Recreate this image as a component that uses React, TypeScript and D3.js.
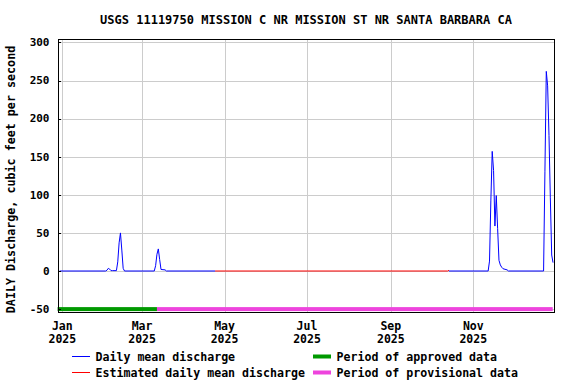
import React from "react";
import * as d3 from "d3";

const TITLE = "USGS 11119750 MISSION C NR MISSION ST NR SANTA BARBARA CA";
const Y_LABEL = "DAILY Discharge, cubic feet per second";

const yTicks = [-50, 0, 50, 100, 150, 200, 250, 300];
const xTickDates = ["2025-01-01", "2025-03-01", "2025-05-01", "2025-07-01", "2025-09-01", "2025-11-01"];
const xTickMonths = ["Jan", "Mar", "May", "Jul", "Sep", "Nov"];
const xTickYears = ["2025", "2025", "2025", "2025", "2025", "2025"];

// Daily mean discharge (first approved/provisional part)
const dailyDatesA = [
  "2024-12-30", "2025-02-02", "2025-02-03", "2025-02-04", "2025-02-05", "2025-02-06", "2025-02-07",
  "2025-02-10", "2025-02-11", "2025-02-12", "2025-02-13", "2025-02-14", "2025-02-15", "2025-02-16",
  "2025-03-10", "2025-03-11", "2025-03-12", "2025-03-13", "2025-03-14", "2025-03-15", "2025-03-18",
  "2025-03-19", "2025-04-24",
];
const dailyValuesA = [
  0, 0, 1, 3.5, 2.5, 0.5, 0.5,
  0.5, 12, 37, 50, 27.5, 3.5, 0,
  0, 7, 22, 29, 15, 2, 1.5,
  0, 0,
];

// Estimated daily mean discharge
const estDates = ["2025-04-24", "2025-10-13", "2025-10-14"];
const estValues = [0, 0, 1];

// Daily mean discharge (after estimated period)
const dailyDatesB = [
  "2025-10-14", "2025-11-12", "2025-11-13", "2025-11-14", "2025-11-15", "2025-11-16", "2025-11-17",
  "2025-11-18", "2025-11-19", "2025-11-20", "2025-11-21", "2025-11-22", "2025-11-23", "2025-11-26",
  "2025-11-27", "2025-12-23", "2025-12-24", "2025-12-25", "2025-12-26", "2025-12-27", "2025-12-28",
  "2025-12-29", "2025-12-30",
];
const dailyValuesB = [
  0, 0, 13, 92, 157, 132, 59,
  99, 56, 14, 8, 5, 3, 1.5,
  0, 0, 131, 262, 243, 178, 96,
  21, 11,
];

const approvedPeriod = ["2024-12-28T12:00:00Z", "2025-03-12T00:00:00Z"];
const provisionalPeriod = ["2025-03-12T00:00:00Z", "2025-12-29T18:00:00Z"];

const legendItems = [
  { label: "Daily mean discharge", color: "#0000ff", kind: "line" },
  { label: "Estimated daily mean discharge", color: "#ff0000", kind: "line" },
  { label: "Period of approved data", color: "#009900", kind: "bar" },
  { label: "Period of provisional data", color: "#ee44dd", kind: "bar" },
];

const W = 576;
const H = 384;
const L = 58, R = 554, T = 39, B = 312;
const FONT = "'DejaVu Sans Mono', 'Liberation Mono', monospace";

const parse = (s: string) => new Date(s.length > 10 ? s : s + "T00:00:00Z");

export default function App() {
  const x = d3
    .scaleUtc()
    .domain([parse("2024-12-28T19:00:00Z"), parse("2025-12-30T17:00:00Z")])
    .range([L, R]);
  const y = d3.scaleLinear().domain([-53.8, 304.5]).range([B, T]);

  const line = d3
    .line<[string, number]>()
    .x((d) => x(parse(d[0])))
    .y((d) => y(d[1]));

  const seriesA = dailyDatesA.map((d, i) => [d, dailyValuesA[i]] as [string, number]);
  const seriesB = dailyDatesB.map((d, i) => [d, dailyValuesB[i]] as [string, number]);
  const seriesE = estDates.map((d, i) => [d, estValues[i]] as [string, number]);

  const barY = y(-50);

  return (
    <svg
      width={W}
      height={H}
      style={{ position: "absolute", left: 0, top: 0, background: "#fff" }}
      fontFamily={FONT}
      fontWeight="bold"
    >
      <rect x={0} y={0} width={W} height={H} fill="#fff" />
      <text x={(L + R) / 2} y={20} dy="0.35em" textAnchor="middle" fontSize={12}>
        {TITLE}
      </text>

      {/* grid */}
      {yTicks.map((t) => (
        <line
          key={"gy" + t}
          x1={L}
          x2={R}
          y1={Math.round(y(t)) + 0.5}
          y2={Math.round(y(t)) + 0.5}
          stroke="#cccccc"
          strokeWidth={1}
        />
      ))}
      {xTickDates.map((t) => (
        <line
          key={"gx" + t}
          x1={Math.round(x(parse(t))) + 0.5}
          x2={Math.round(x(parse(t))) + 0.5}
          y1={T}
          y2={B}
          stroke="#cccccc"
          strokeWidth={1}
        />
      ))}

      {/* period bars */}
      <rect
        x={x(parse(approvedPeriod[0]))}
        width={x(parse(approvedPeriod[1])) - x(parse(approvedPeriod[0]))}
        y={barY - 2}
        height={4}
        fill="#009900"
      />
      <rect
        x={x(parse(provisionalPeriod[0]))}
        width={x(parse(provisionalPeriod[1])) - x(parse(provisionalPeriod[0]))}
        y={barY - 2}
        height={4}
        fill="#ee44dd"
      />

      {/* series */}
      <path d={line(seriesE) || ""} fill="none" stroke="#ff0000" strokeWidth={1} />
      <path d={line(seriesA) || ""} fill="none" stroke="#0000ff" strokeWidth={1} />
      <path d={line(seriesB) || ""} fill="none" stroke="#0000ff" strokeWidth={1} />

      {/* frame */}
      <rect x={L + 0.5} y={T + 0.5} width={R - L} height={B - T} fill="none" stroke="#000" strokeWidth={1} />
      {yTicks.map((t) => (
        <line
          key={"ty" + t}
          x1={L}
          x2={L + 3}
          y1={Math.round(y(t)) + 0.5}
          y2={Math.round(y(t)) + 0.5}
          stroke="#000"
        />
      ))}

      {/* y tick labels */}
      {yTicks.map((t) => (
        <text key={"ly" + t} x={49.5} y={y(t)} dy="0.35em" textAnchor="end" fontSize={11}>
          {t}
        </text>
      ))}

      {/* x tick labels */}
      {xTickDates.map((t, i) => (
        <g key={"lx" + t}>
          <text x={x(parse(t))} y={325.7} dy="0.35em" textAnchor="middle" fontSize={11.5}>
            {xTickMonths[i]}
          </text>
          <text x={x(parse(t))} y={339} dy="0.35em" textAnchor="middle" fontSize={11.5}>
            {xTickYears[i]}
          </text>
        </g>
      ))}

      {/* y label */}
      <text
        transform={`translate(11,179.5) rotate(-90)`}
        dy="0.35em"
        textAnchor="middle"
        fontSize={11.7}
      >
        {Y_LABEL}
      </text>

      {/* legend */}
      {legendItems.map((it, i) => {
        const col = i < 2 ? 0 : 1;
        const row = i % 2;
        const sx = col === 0 ? 72 : 313;
        const tx = col === 0 ? 95.5 : 336.5;
        const cy = row === 0 ? 356.5 : 372.5;
        return (
          <g key={it.label}>
            {it.kind === "line" ? (
              <line x1={sx} x2={sx + 18} y1={cy} y2={cy} stroke={it.color} strokeWidth={1} />
            ) : (
              <rect x={sx} y={cy - 2} width={18} height={4} fill={it.color} />
            )}
            <text x={tx} y={cy} dy="0.35em" fontSize={11.6}>
              {it.label}
            </text>
          </g>
        );
      })}
    </svg>
  );
}
